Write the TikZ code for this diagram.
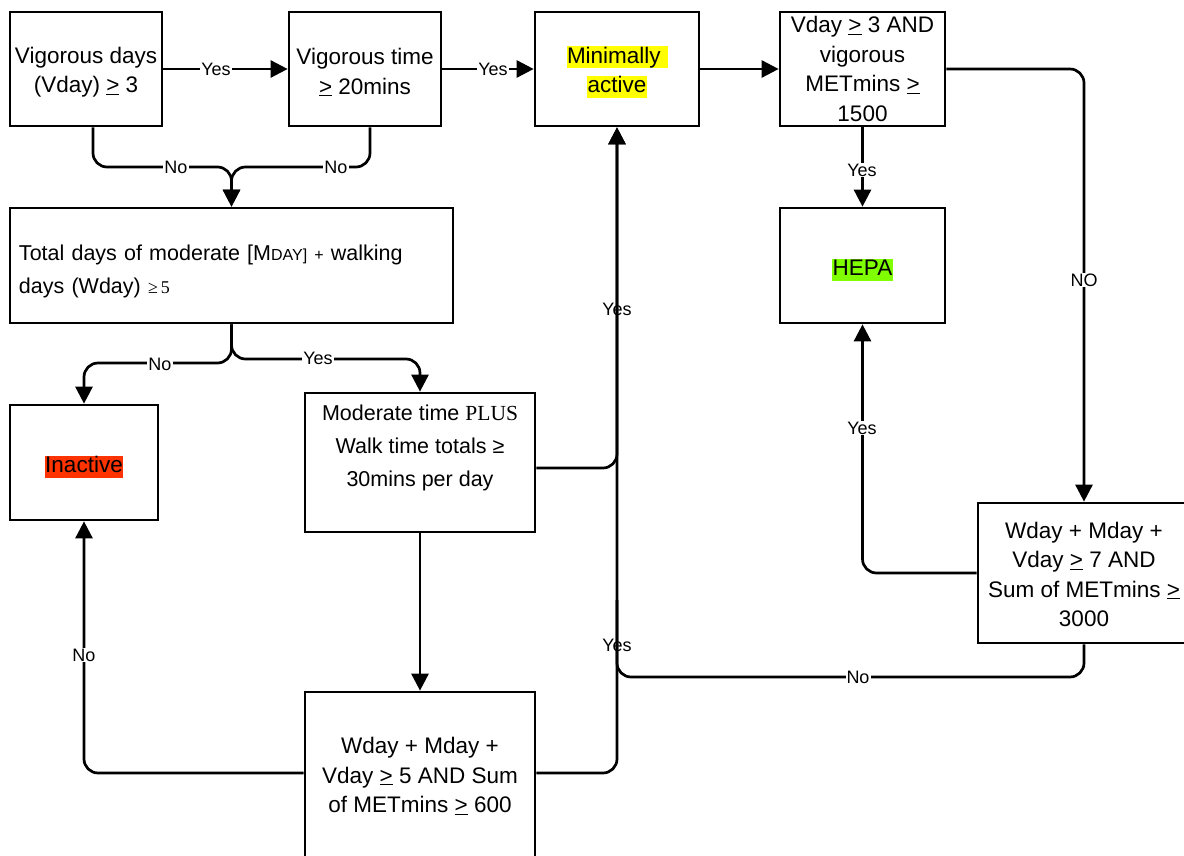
\documentclass[tikz,border=0pt]{standalone}
\usepackage{fontspec}
\setmainfont{Liberation Sans}
\newfontfamily\serifff{Liberation Serif}
\usetikzlibrary{arrows.meta}
\definecolor{hlyellow}{HTML}{FFFF00}
\definecolor{hlgreen}{HTML}{80FF00}
\definecolor{hlred}{HTML}{FF3300}
\newcommand\hlbox[2]{{\setlength{\fboxsep}{0.5pt}\colorbox{#1}{\vphantom{Ay}#2}}}
\newcommand\ugt{\underline{>}}
\newcommand\topstrut[1]{\rule{0pt}{#1}}
\begin{document}
\begin{tikzpicture}[x=1pt,y=-1pt,
  box/.style={draw, line width=2.7pt, inner sep=0pt, align=center, font=\fontsize{22.5}{29.5}\selectfont},
  conn/.style={line width=2.7pt, rounded corners=14pt},
  arr/.style={conn, -{Triangle[length=17pt,width=17pt]}},
  lbl/.style={fill=white, inner sep=1pt, font=\fontsize{18}{18}\selectfont},
  lbln/.style={inner sep=1pt, font=\fontsize{18}{18}\selectfont}]
\useasboundingbox (0,0) rectangle (1184,856);
\clip (0,0) rectangle (1184,856);
% boxes
\node[box, minimum width=152pt, minimum height=114pt] (A) at (86,69) {\topstrut{23pt}Vigorous days\\(Vday) \ugt\ 3};
\node[box, minimum width=152pt, minimum height=114pt] (B) at (365,69) {\topstrut{23pt}Vigorous time\\\ugt\ 20mins};
\node[box, minimum width=164pt, minimum height=114pt] (C) at (617,69) {\topstrut{23pt}\hlbox{hlyellow}{Minimally\ }\\\hlbox{hlyellow}{active}};
\node[box, minimum width=165pt, minimum height=114pt] (D) at (862.5,69) {Vday \ugt\ 3 AND\\vigorous\\METmins \ugt\\1500};
\node[box, minimum width=443pt, minimum height=115pt, text width=425pt, inner xsep=9pt, align=left, font=\fontsize{21.5}{33}\selectfont] (E) at (231.5,265.5)
  {\topstrut{27pt}Total days of moderate [M{\fontsize{16}{16}\selectfont DAY]} {\fontsize{16}{16}\selectfont +} walking\\days (Wday) {\serifff\fontsize{18}{18}\selectfont ≥\,5}};
\node[box, minimum width=165pt, minimum height=115pt] (F) at (862.5,265.5) {\topstrut{25pt}\hlbox{hlgreen}{HEPA}};
\node[box, minimum width=148pt, minimum height=115pt] (G) at (84,462.5) {\topstrut{26pt}\hlbox{hlred}{Inactive}};
\node[box, minimum width=230pt, minimum height=139pt, font=\fontsize{21.5}{33}\selectfont] (H) at (420,462.5)
  {Moderate time {\serifff PLUS}\\Walk time totals ≥\\30mins per day\\\mbox{}};
\node[box, minimum width=212pt, minimum height=140pt] (I) at (1084,573) {\topstrut{19pt}Wday + Mday +\\Vday \ugt\ 7 AND\\Sum of METmins \ugt\\3000};
\node[box, minimum width=230pt, minimum height=166pt] (J) at (420,775) {\topstrut{18pt}Wday + Mday +\\Vday \ugt\ 5 AND Sum\\of METmins \ugt\ 600};
% helper coordinates
\coordinate (m1) at (231.5,167);
\coordinate (s1) at (84,363);
\coordinate (s2) at (420,359);
\coordinate (j1) at (617,677);
\coordinate (j2) at (617,600);
% connectors
\draw[arr] (A.east) -- (B.west);
\draw[arr] (B.east) -- (C.west);
\draw[arr] (C.east) -- (D.west);
\draw[arr] ([xshift=7pt]A.south) |- (m1) -- (E.north);
\draw[arr] ([xshift=5pt]B.south) |- (m1) -- (E.north);
\draw[arr] (E.south) |- (s1) -- (G.north);
\draw[arr] (E.south) |- (s2) -- (H.north);
\draw[arr] ([yshift=-5.5pt]H.east) -| (C.south);
\draw[arr] (H.south) -- (J.north);
\draw[arr] ([yshift=2pt]J.west) -| (G.south);
\draw[arr] ([yshift=2pt]J.east) -| (C.south);
\draw[conn] (I.south) |- (j1) -- (j2);
\draw[arr] (D.east) -| (I.north);
\draw[arr] (D.south) -- (F.north);
\draw[arr] (I.west) -| (F.south);
% labels
\node[lbl] (l1) at (216,69) {Yes};
\node[lbl] (l2) at (493,69) {Yes};
\node[lbl] (l3) at (176,167) {No};
\node[lbl] (l4) at (336,167) {No};
\node[lbl] (l5) at (160,364) {No};
\node[lbl] (l6) at (318,358) {Yes};
\node[lbln] (l7) at (617,309) {Yes};
\node[lbln] (l8) at (617,645) {Yes};
\node[lbl] (l9) at (84,655) {No};
\node[lbl] (l10) at (858,677) {No};
\node[lbl] (l11) at (1084,280) {NO};
\node[lbl] (l12) at (862,170) {Yes};
\node[lbl] (l13) at (862,428) {Yes};
\end{tikzpicture}
\end{document}
